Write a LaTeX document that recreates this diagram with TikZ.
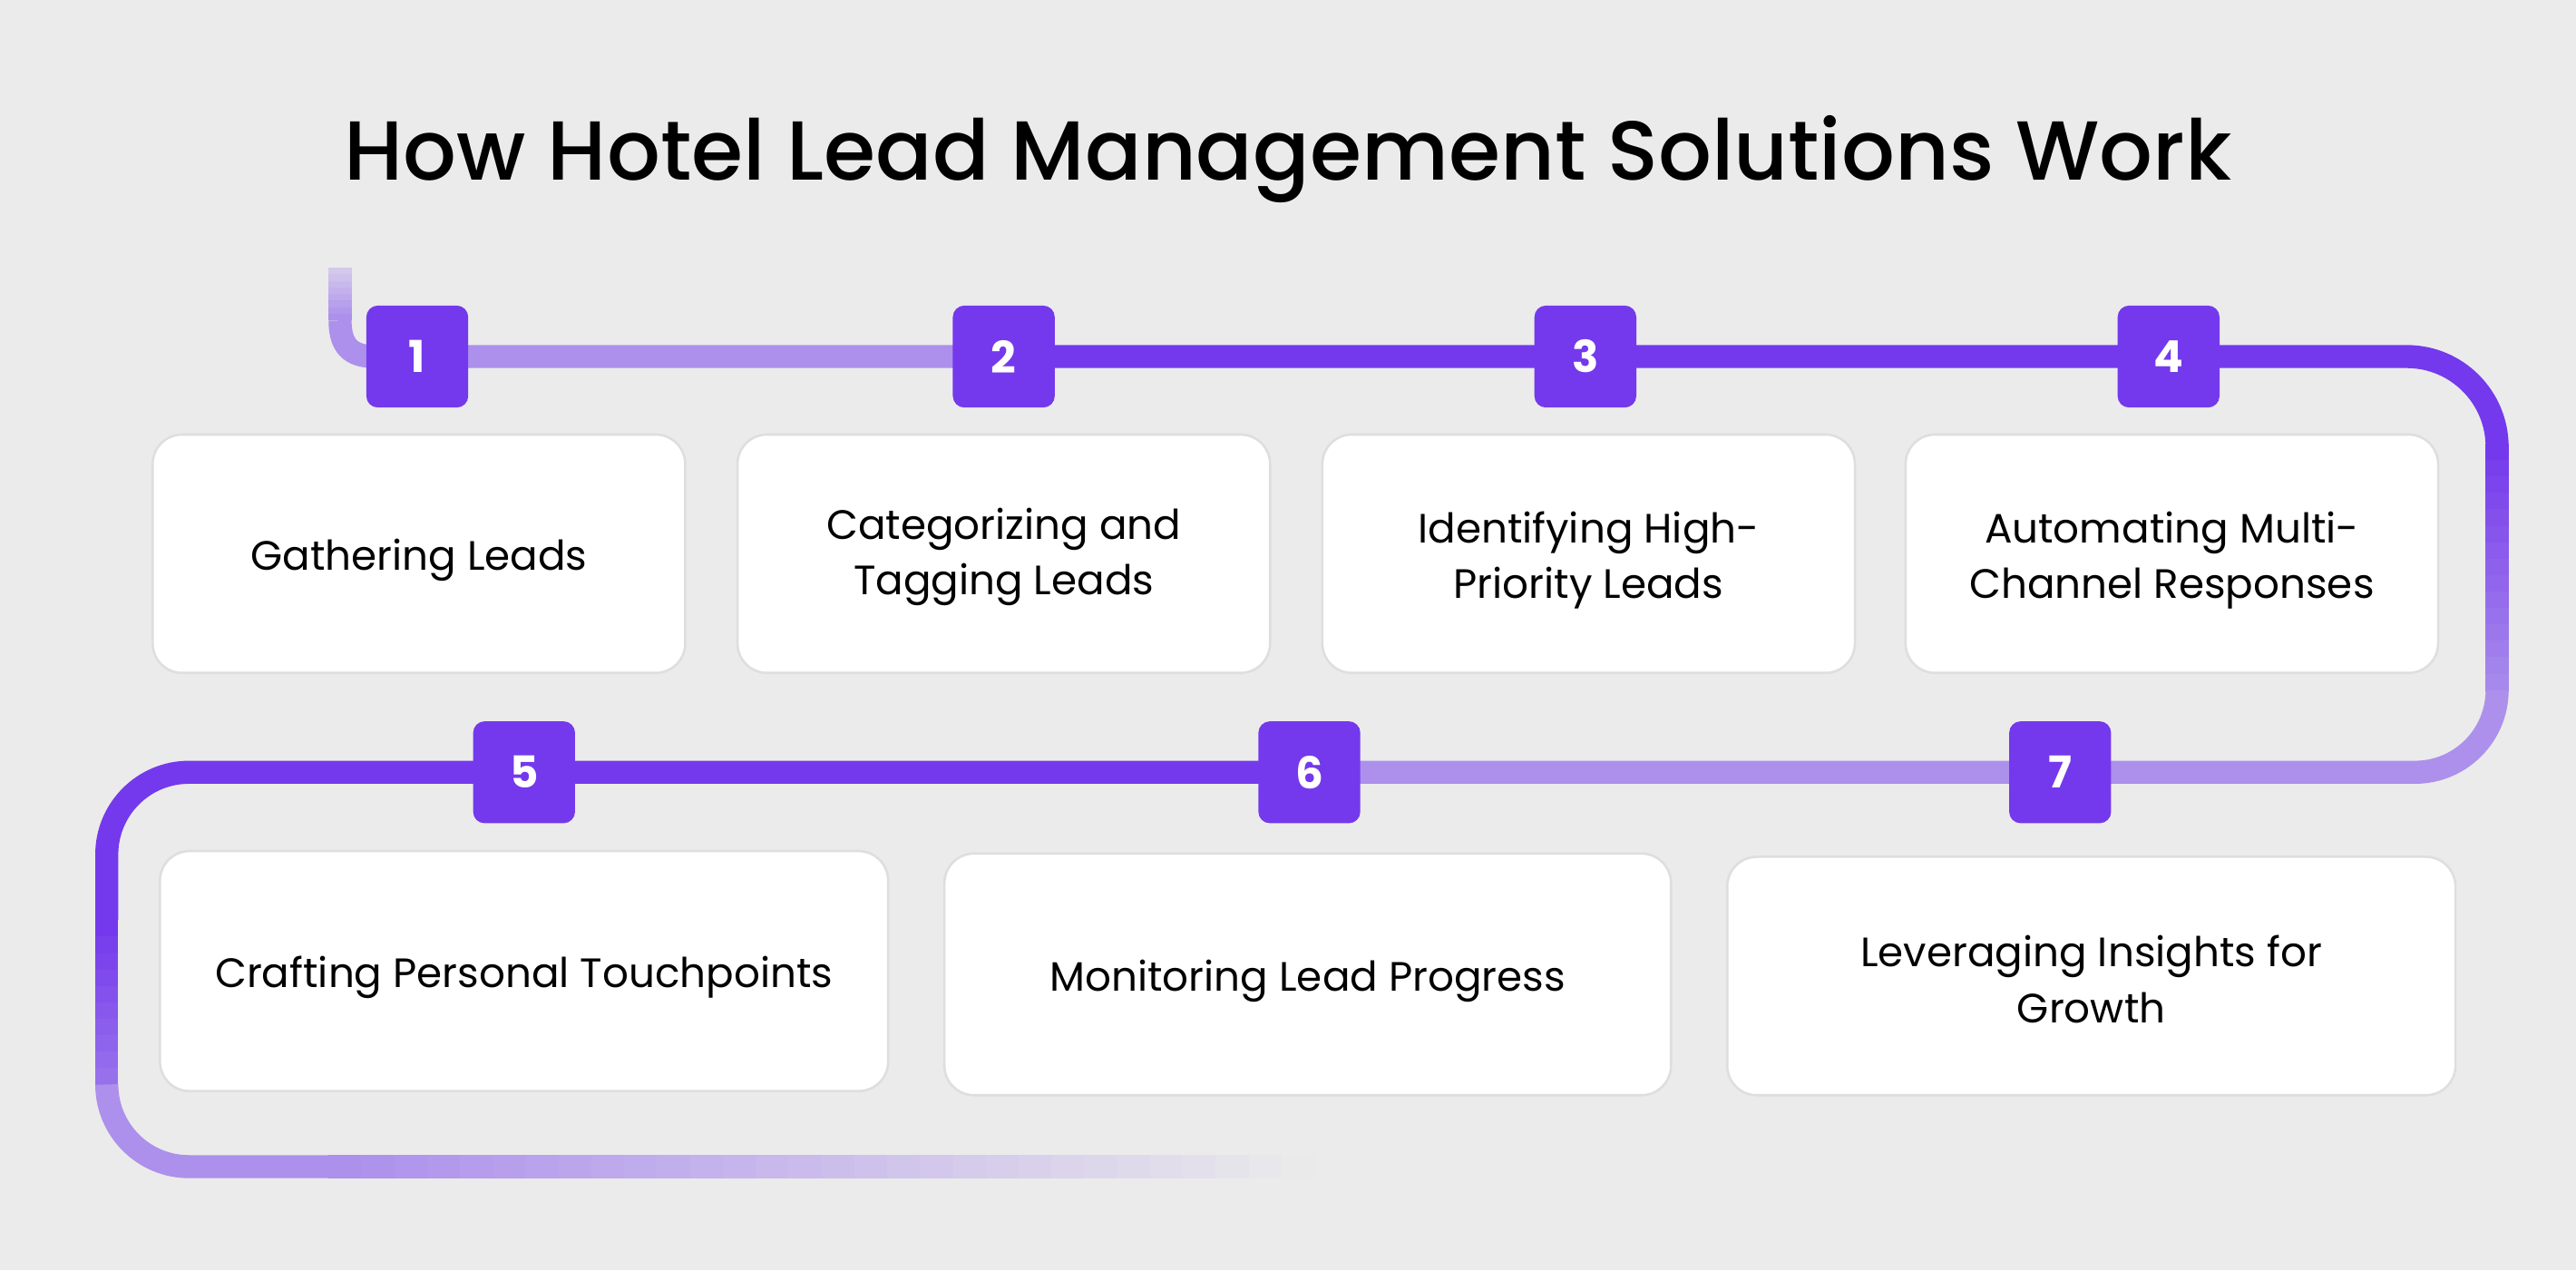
\documentclass[tikz,border=0pt]{standalone}
\usepackage{fontspec}
\setmainfont{Poppins}
\newfontfamily\titlefont{Poppins Medium}
\definecolor{bg}{HTML}{EBEBEB}
\definecolor{dk}{HTML}{7439EC}
\definecolor{lt}{HTML}{AC90EC}
\definecolor{bd}{HTML}{DEDEDE}
\begin{document}
\begin{tikzpicture}[x=0.01cm,y=-0.01cm,
  card/.style={draw=bd,line width=0.4pt,fill=white,rounded corners=0.18cm,inner sep=0pt,align=center,font=\fontsize{7.1}{9.6}\selectfont},
  lbl/.style={align=center,inner sep=0pt,font=\fontsize{7.1}{9.6}\selectfont},
  badge/.style={fill=dk,rounded corners=0.07cm,minimum size=0.62cm,inner sep=0pt,text=white,font=\fontsize{7.6}{9}\selectfont\bfseries},
  trk/.style={line width=0.14cm}]
\fill[bg] (0,0) rectangle (1568,773);
\useasboundingbox (0,0) rectangle (1568,773);
\node[font=\fontsize{14.5}{18}\selectfont\titlefont] (title) at (784,97) {How Hotel Lead Management Solutions Work};
% track
\foreach \i in {0,...,7}{\pgfmathsetmacro\p{100-\i*9}
  \draw[trk,color=lt!\p!bg] (207,{195-\i*4}) -- (207,{191-\i*4});}
\draw[trk,lt] (207,195) .. controls (207,210) and (213,217) .. (228,217) -- (611,217);
\draw[trk,dk] (611,217) -- (1465,217) arc[start angle=-90,end angle=0,radius=55] -- (1520,270);
\foreach \i in {0,...,14}{\pgfmathsetmacro\p{100-\i*6.5}
  \draw[trk,color=dk!\p!lt] (1520,{270+\i*10}) -- (1520,{281+\i*10});}
\draw[trk,lt] (1520,420) arc[start angle=0,end angle=90,radius=50] -- (797,470);
\draw[trk,dk] (797,470) -- (115,470) arc[start angle=-90,end angle=-180,radius=50] -- (65,560);
\foreach \i in {0,...,9}{\pgfmathsetmacro\p{100-\i*7}
  \draw[trk,color=dk!\p!lt] (65,{560+\i*10}) -- (65,{571+\i*10});}
\draw[trk,lt] (65,660) arc[start angle=180,end angle=90,radius=50] -- (200,710);
\foreach \i in {0,...,29}{\pgfmathsetmacro\p{100-\i*3.4}
  \draw[trk,color=lt!\p!bg] ({200+\i*20},710) -- ({221+\i*20},710);}
% cards
\node[card,minimum width=3.24cm,minimum height=1.45cm] (c1) at (255,337) {};
\node[card,minimum width=3.24cm,minimum height=1.45cm] (c2) at (611,337) {};
\node[card,minimum width=3.24cm,minimum height=1.45cm] (c3) at (967,337) {};
\node[card,minimum width=3.24cm,minimum height=1.45cm] (c4) at (1322,337) {};
\node[card,minimum width=4.43cm,minimum height=1.46cm] (c5) at (319,591) {};
\node[card,minimum width=4.42cm,minimum height=1.47cm] (c6) at (796,593) {};
\node[card,minimum width=4.43cm,minimum height=1.45cm] (c7) at (1273,594) {};
\node[lbl] at ([yshift=-0.04cm]c1) {Gathering Leads};
\node[lbl] at ([yshift=-0.02cm]c2) {Categorizing and\\Tagging Leads};
\node[lbl] at ([yshift=-0.04cm]c3) {Identifying High-\\Priority Leads};
\node[lbl] at ([yshift=-0.04cm]c4) {Automating Multi-\\Channel Responses};
\node[lbl] at ([yshift=-0.04cm]c5) {Crafting Personal Touchpoints};
\node[lbl] at ([yshift=-0.04cm]c6) {Monitoring Lead Progress};
\node[lbl] at ([yshift=-0.02cm]c7) {Leveraging Insights for\\Growth};
% badges
\node[badge] (b1) at (254,217) {1};
\node[badge] (b2) at (611,217) {2};
\node[badge] (b3) at (965,217) {3};
\node[badge] (b4) at (1320,217) {4};
\node[badge] (b5) at (319,470) {5};
\node[badge] (b6) at (797,470) {6};
\node[badge] (b7) at (1254,470) {7};
\end{tikzpicture}
\end{document}
